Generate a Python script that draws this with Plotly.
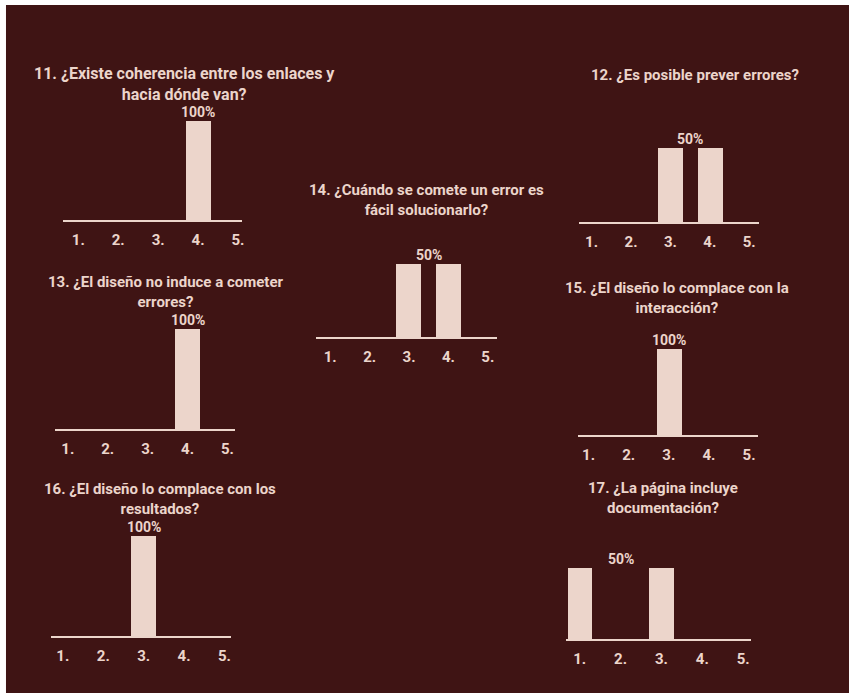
import plotly.graph_objects as go

W, H = 851, 693

categories = ["1.", "2.", "3.", "4.", "5."]
positions = [1, 2, 3, 4, 5]

titles = [
    "11. ¿Existe coherencia entre los enlaces y<br>hacia dónde van?",
    "12. ¿Es posible prever errores?",
    "13. ¿El diseño no induce a cometer<br>errores?",
    "14. ¿Cuándo se comete un error es<br>fácil solucionarlo?",
    "15. ¿El diseño lo complace con la<br>interacción?",
    "16. ¿El diseño lo complace con los<br>resultados?",
    "17. ¿La página incluye<br>documentación?",
]
q11 = [0, 0, 0, 100, 0]
q12 = [0, 0, 50, 50, 0]
q13 = [0, 0, 0, 100, 0]
q14 = [0, 0, 50, 50, 0]
q15 = [0, 0, 100, 0, 0]
q16 = [0, 0, 100, 0, 0]
q17 = [50, 0, 50, 0, 0]
series = [q11, q12, q13, q14, q15, q16, q17]
value_labels = ["100%", "50%", "100%", "50%", "100%", "100%", "50%"]

# pixel layout per panel: axis line x0, x1, baseline y, top y of tallest bar,
# first category centre, category spacing, title centre x, title centre y, title size
panels = [
    dict(x0=63, x1=243, base=220, top=121, c1=78.5, s=40, tx=185, ty=83.5, fs=16),
    dict(x0=580, x1=761, base=222, top=147.5, c1=593, s=39.5, tx=697, ty=75, fs=15),
    dict(x0=55, x1=236, base=429, top=329, c1=68, s=40, tx=166, ty=291.5, fs=15),
    dict(x0=317, x1=498, base=337, top=264, c1=331, s=39.5, tx=428, ty=200, fs=15),
    dict(x0=579, x1=760, base=435, top=349, c1=590, s=40.2, tx=679, ty=297.5, fs=15),
    dict(x0=51, x1=232, base=636, top=536, c1=63, s=40.5, tx=160, ty=498.5, fs=15),
    dict(x0=567, x1=753, base=639, top=568, c1=581, s=41, tx=665, ty=498, fs=15),
]

BG = "#3f1414"
FG = "#ecd5cb"
FONT = "Roboto"

fig = go.Figure()
annotations = []
layout_axes = {}

for i, (p, vals, title, lab) in enumerate(zip(panels, series, titles, value_labels)):
    n = "" if i == 0 else str(i + 1)
    xa, ya = "x" + n, "y" + n
    vmax = max(vals)
    fig.add_trace(go.Bar(
        x=positions, y=vals, xaxis=xa, yaxis=ya,
        width=25 / p["s"], marker=dict(color=FG, line=dict(width=0)),
        showlegend=False, hoverinfo="skip",
    ))
    r0 = 1 + (p["x0"] - p["c1"]) / p["s"]
    r1 = 1 + (p["x1"] - p["c1"]) / p["s"]
    layout_axes["xaxis" + n] = dict(
        domain=[p["x0"] / W, p["x1"] / W], range=[r0, r1],
        anchor=ya, tickvals=positions, ticktext=categories,
        showgrid=False, zeroline=False, showline=True,
        linecolor=FG, linewidth=2, ticks="", ticklabelstandoff=5,
        tickfont=dict(family=FONT, size=15, color=FG, weight="bold"),
        fixedrange=True,
    )
    layout_axes["yaxis" + n] = dict(
        domain=[1 - p["base"] / H, 1 - p["top"] / H], range=[0, vmax],
        anchor=xa, visible=False, fixedrange=True,
    )
    nz = [x for x, v in zip(positions, vals) if v > 0]
    annotations.append(dict(
        x=sum(nz) / len(nz), y=vmax, xref=xa, yref=ya,
        text=lab, showarrow=False, xanchor="center", yanchor="bottom", yshift=-1,
        font=dict(family=FONT, size=14, color=FG, weight="bold"),
    ))
    annotations.append(dict(
        x=p["tx"] / W, y=1 - p["ty"] / H, xref="paper", yref="paper",
        text=title, showarrow=False, xanchor="center", yanchor="middle",
        align="center",
        font=dict(family=FONT, size=p["fs"], color=FG, weight="bold"),
    ))

fig.update_layout(
    width=W, height=H,
    margin=dict(l=0, r=0, t=0, b=0),
    paper_bgcolor="white", plot_bgcolor="rgba(0,0,0,0)",
    bargap=0, annotations=annotations,
    shapes=[dict(type="rect", xref="paper", yref="paper",
                 x0=6 / W, x1=1, y0=0, y1=1 - 5 / H,
                 fillcolor=BG, line=dict(width=0), layer="below")],
    **layout_axes,
)

fig.write_html("out.html")
